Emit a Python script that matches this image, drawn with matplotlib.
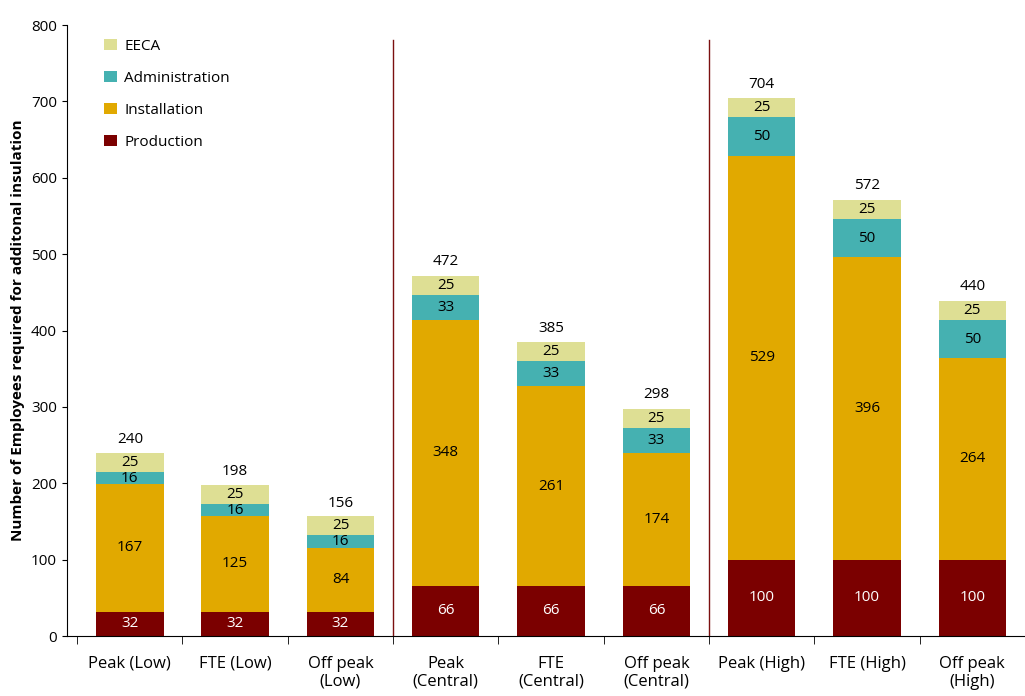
import numpy as np
import matplotlib.pyplot as plt

plt.rcParams['font.family'] = ['Open Sans', 'DejaVu Sans']

categories = ['Peak (Low)', 'FTE (Low)', 'Off peak\n(Low)',
              'Peak\n(Central)', 'FTE\n(Central)', 'Off peak\n(Central)',
              'Peak (High)', 'FTE (High)', 'Off peak\n(High)']
production = [32, 32, 32, 66, 66, 66, 100, 100, 100]
installation = [167, 125, 84, 348, 261, 174, 529, 396, 264]
administration = [16, 16, 16, 33, 33, 33, 50, 50, 50]
eeca = [25, 25, 25, 25, 25, 25, 25, 25, 25]
totals = [240, 198, 156, 472, 385, 298, 704, 572, 440]

series = [('Production', production, '#7B0000', 'white'),
          ('Installation', installation, '#E1A900', 'black'),
          ('Administration', administration, '#45B1B1', 'black'),
          ('EECA', eeca, '#DEDF94', 'black')]

fig = plt.figure(figsize=(10.25, 6.96), dpi=100)
ax = fig.add_axes([0.065, 0.086, 0.935, 0.878])
x = np.arange(len(categories))
bottom = np.zeros(len(categories))
for name, vals, col, tcol in series:
    vals = np.array(vals, dtype=float)
    ax.bar(x, vals, 0.64, bottom=bottom, color=col, label=name)
    for xi, b, v in zip(x, bottom, vals):
        ax.text(xi, b + v / 2, f'{int(v)}', ha='center', va='center',
                fontsize=11, color=tcol)
    bottom += vals
for xi, t in zip(x, totals):
    ax.text(xi, t + 8, str(t), ha='center', va='bottom', fontsize=11)

for sep in [2.5, 5.5]:
    ax.plot([sep, sep], [0, 780], color='#7B1010', lw=1)

ax.set_xlim(-0.6, 8.216)
ax.set_ylim(0, 800)
ax.set_yticks(range(0, 801, 100))
ax.set_xticks(x)
ax.set_xticklabels(categories, fontsize=12)
ax.set_xticks(np.arange(-0.5, 9, 1), minor=True)
ax.tick_params(axis='x', which='major', length=0, pad=14)
ax.tick_params(axis='x', which='minor', length=6, direction='out')
ax.tick_params(axis='y', labelsize=11)
ax.spines['top'].set_visible(False)
ax.spines['right'].set_visible(False)
ax.set_ylabel('Number of Employees required for additonal insulation',
              fontsize=11, fontweight='bold')

h, l = ax.get_legend_handles_labels()
ax.legend(h[::-1], l[::-1], loc='upper left', bbox_to_anchor=(0.025, 1.0),
          frameon=False, fontsize=11, labelspacing=1.1,
          handlelength=0.8, handleheight=0.8, handletextpad=0.5)
fig.savefig('out.png')
